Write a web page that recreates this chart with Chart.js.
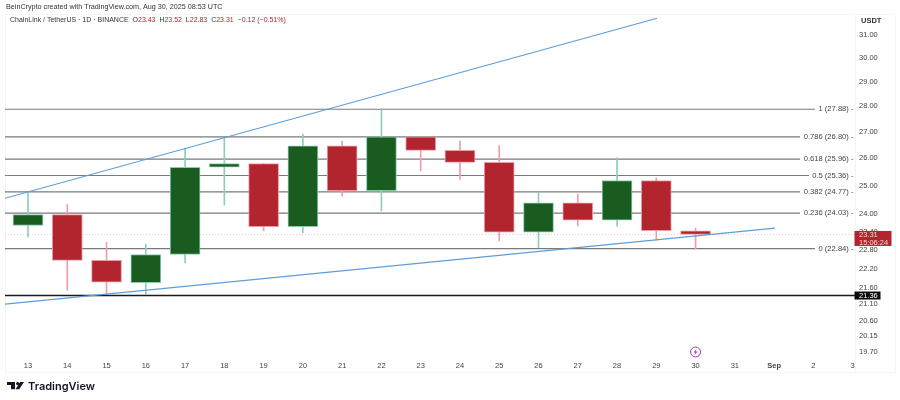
<!DOCTYPE html>
<html><head><meta charset="utf-8">
<style>html,body{margin:0;padding:0;background:#fff}canvas{display:block}</style>
<script src="https://cdn.jsdelivr.net/npm/chart.js@4"></script>
</head><body><canvas id="c" width="900" height="400"></canvas>
<script>
const dayLabels=['13','14','15','16','17','18','19','20','21','22','23','24','25','26','27','28','29','30','31','Sep','2','3'];
const opens =[23.61,23.98,22.46,21.76,22.65,25.66,25.80,23.57,26.46,24.82,26.80,26.29,25.84,23.39,24.39,23.79,25.18,23.43];
const closes=[23.98,22.46,21.77,22.65,25.66,25.80,23.57,26.46,24.82,26.80,26.29,25.84,23.39,24.39,23.79,25.18,23.44,23.31];
const highs =[24.76,24.33,23.05,22.99,26.37,26.75,25.80,26.91,26.64,27.91,26.80,26.64,26.47,24.77,24.69,26.02,25.27,23.52];
const lows  =[23.23,21.52,21.37,21.41,22.38,24.31,23.43,23.37,24.62,24.10,25.53,25.22,23.10,22.87,23.59,23.59,23.12,22.83];
const priceTicks=[19.70,20.15,20.60,21.10,21.60,22.20,22.80,23.40,24,25,26,27,28,29,30,31];
const fibNames=['1','0.786','0.618','0.5','0.382','0.236','0'];
const fibValues=[27.88,26.80,25.96,25.36,24.77,24.03,22.84];
const fibEnds=[20.04,19.66,19.66,19.89,19.66,19.66,20.04];
const upperTrendX=[-0.586,16.02], upperTrendY=[24.55,31.76];
const lowerTrendX=[-0.586,19.02], lowerTrendY=[21.10,23.52];
const supportPrice=21.36, lastPrice=23.31;

const xMin=-0.586,xMax=21.06;
const RED='#b2252f',GREEN='#1a5c20',REDW='#ee9dA9',GREENW='#8fcdb9',REDB='#ee9aa5',GREENB='#86cbb5';
const isUp=i=>closes[i]>=opens[i];
const pts=(xs,ys)=>xs.map((x,i)=>({x,y:ys[i]}));
const lineDs=(data,color,width,order,dash)=>({type:'line',data,borderColor:color,borderWidth:width,pointRadius:0,order,tension:0,borderDash:dash||[],fill:false});

const datasets=[
  {type:'bar',data:opens.map((o,i)=>({x:i,y:[o,closes[i]]})),grouped:false,barThickness:30,
   backgroundColor:opens.map((o,i)=>isUp(i)?GREEN:RED),borderColor:opens.map((o,i)=>isUp(i)?GREENB:REDB),borderWidth:1,borderSkipped:false,order:3},
  {type:'bar',data:opens.map((o,i)=>({x:i,y:[lows[i],highs[i]]})),grouped:false,barThickness:1,
   backgroundColor:opens.map((o,i)=>isUp(i)?GREENW:REDW),borderWidth:0,order:4},
  lineDs(pts(upperTrendX,upperTrendY),'#5c9ddb',1.1,1),
  lineDs(pts(lowerTrendX,lowerTrendY),'#5c9ddb',1.1,1),
  lineDs([{x:xMin,y:lastPrice},{x:xMax,y:lastPrice}],'#f6c3c9',1,6,[1,2]),
  lineDs([{x:xMin,y:supportPrice},{x:xMax,y:supportPrice}],'#1a1a1a',1.5,2),
  ...fibValues.map((v,i)=>lineDs([{x:xMin,y:v},{x:fibEnds[i],y:v}],'#7a7a7a',1.2,5))
];

const FONT='"Liberation Sans"';
const deco={id:'deco',
  beforeDraw(ch){const c=ch.ctx;c.save();
    c.fillStyle='#fff';c.fillRect(0,0,900,400);
    c.strokeStyle='#f5f5f5';c.lineWidth=1;
    c.strokeRect(5.5,14.5,890,358);
    c.beginPath();c.moveTo(855.5,14.5);c.lineTo(855.5,372.5);c.stroke();
    c.restore();},
  afterDraw(ch){const c=ch.ctx,y=ch.scales.y,x=ch.scales.x;c.save();
    c.textBaseline='middle';
    c.fillStyle='#333';c.font='7.2px '+FONT;c.textAlign='left';
    c.fillText('BeinCrypto created with TradingView.com, Aug 30, 2025 08:53 UTC',6,7.5);
    c.font='7px '+FONT;
    let tx=10;const head=[['ChainLink / TetherUS · 1D · BINANCE  ','#333'],['O','#333'],['23.43  ',RED],['H','#333'],['23.52  ',RED],['L','#333'],['22.83  ',RED],['C','#333'],['23.31  −0.12 (−0.51%)',RED]];
    head.forEach(([t,col])=>{c.fillStyle=col;c.fillText(t,tx,20.5);tx+=c.measureText(t).width;});
    c.fillStyle='#333';c.font='bold 7.5px '+FONT;c.fillText('USDT',861,21);
    c.font='7.6px '+FONT;c.textAlign='right';c.fillStyle='#444';
    fibNames.forEach((n,i)=>c.fillText(n+' ('+fibValues[i].toFixed(2)+') -',853.5,y.getPixelForValue(fibValues[i])));
    const ly=y.getPixelForValue(lastPrice);
    c.fillStyle=RED;c.fillRect(854.5,ly-3.5,37,15);
    c.fillStyle='#f6d5d8';c.textAlign='left';c.font='7.5px '+FONT;c.fillText(lastPrice.toFixed(2),859,ly+0.5);c.fillText('15:06:24',859,ly+8);
    const sy=y.getPixelForValue(supportPrice);
    c.fillStyle='#0a0a0a';c.fillRect(854.5,sy-4,26,8);
    c.fillStyle='#fff';c.fillText(supportPrice.toFixed(2),859,sy+0.5);
    const bx=x.getPixelForValue(17),by=352;
    c.strokeStyle='#9b3fb5';c.lineWidth=1;c.beginPath();c.arc(bx,by,5,0,Math.PI*2);c.stroke();
    c.fillStyle='#9b3fb5';c.beginPath();c.moveTo(bx+1,by-3);c.lineTo(bx-2,by+0.5);c.lineTo(bx-0.2,by+0.5);c.lineTo(bx-1,by+3);c.lineTo(bx+2,by-0.5);c.lineTo(bx+0.2,by-0.5);c.closePath();c.fill();
    c.fillStyle='#131722';
    c.fillRect(7,382,8,3);c.fillRect(11,382,4,7.2);
    c.beginPath();c.arc(17.7,383.6,1.7,0,Math.PI*2);c.fill();
    c.beginPath();c.moveTo(20.2,382);c.lineTo(24,382);c.lineTo(19.2,389.2);c.lineTo(15.6,389.2);c.closePath();c.fill();
    c.font='600 11px "Inter"';c.textBaseline='alphabetic';c.textAlign='left';c.fillText('TradingView',28,389.5);
    c.restore();}
};

new Chart(document.getElementById('c'),{
  data:{datasets},
  plugins:[deco],
  options:{responsive:false,animation:false,devicePixelRatio:1,
    layout:{padding:{left:5,top:14,right:0,bottom:28}},
    plugins:{legend:{display:false},tooltip:{enabled:false},title:{display:false}},
    scales:{
      x:{type:'linear',offset:false,min:xMin,max:xMax,grid:{display:false,drawTicks:false},border:{display:false},
        afterBuildTicks(s){s.ticks=dayLabels.map((_,i)=>({value:i}));},
        afterFit(s){s.height=16;},
        ticks:{autoSkip:false,maxRotation:0,padding:5,color:'#444',
          font:ctx=>({family:FONT,size:7.5,weight:ctx.tick&&dayLabels[ctx.tick.value]==='Sep'?'bold':'normal'}),
          callback:v=>dayLabels[v]}},
      y:{type:'logarithmic',position:'right',min:19.59,max:31.95,grid:{display:false,drawTicks:false},border:{display:false},
        afterBuildTicks(s){s.ticks=priceTicks.map(v=>({value:v}));},
        afterFit(s){s.width=45;},
        ticks:{autoSkip:false,padding:4,color:'#444',font:{family:FONT,size:7.5},callback:v=>Number(v).toFixed(2)}}
    }}
});
</script></body></html>
